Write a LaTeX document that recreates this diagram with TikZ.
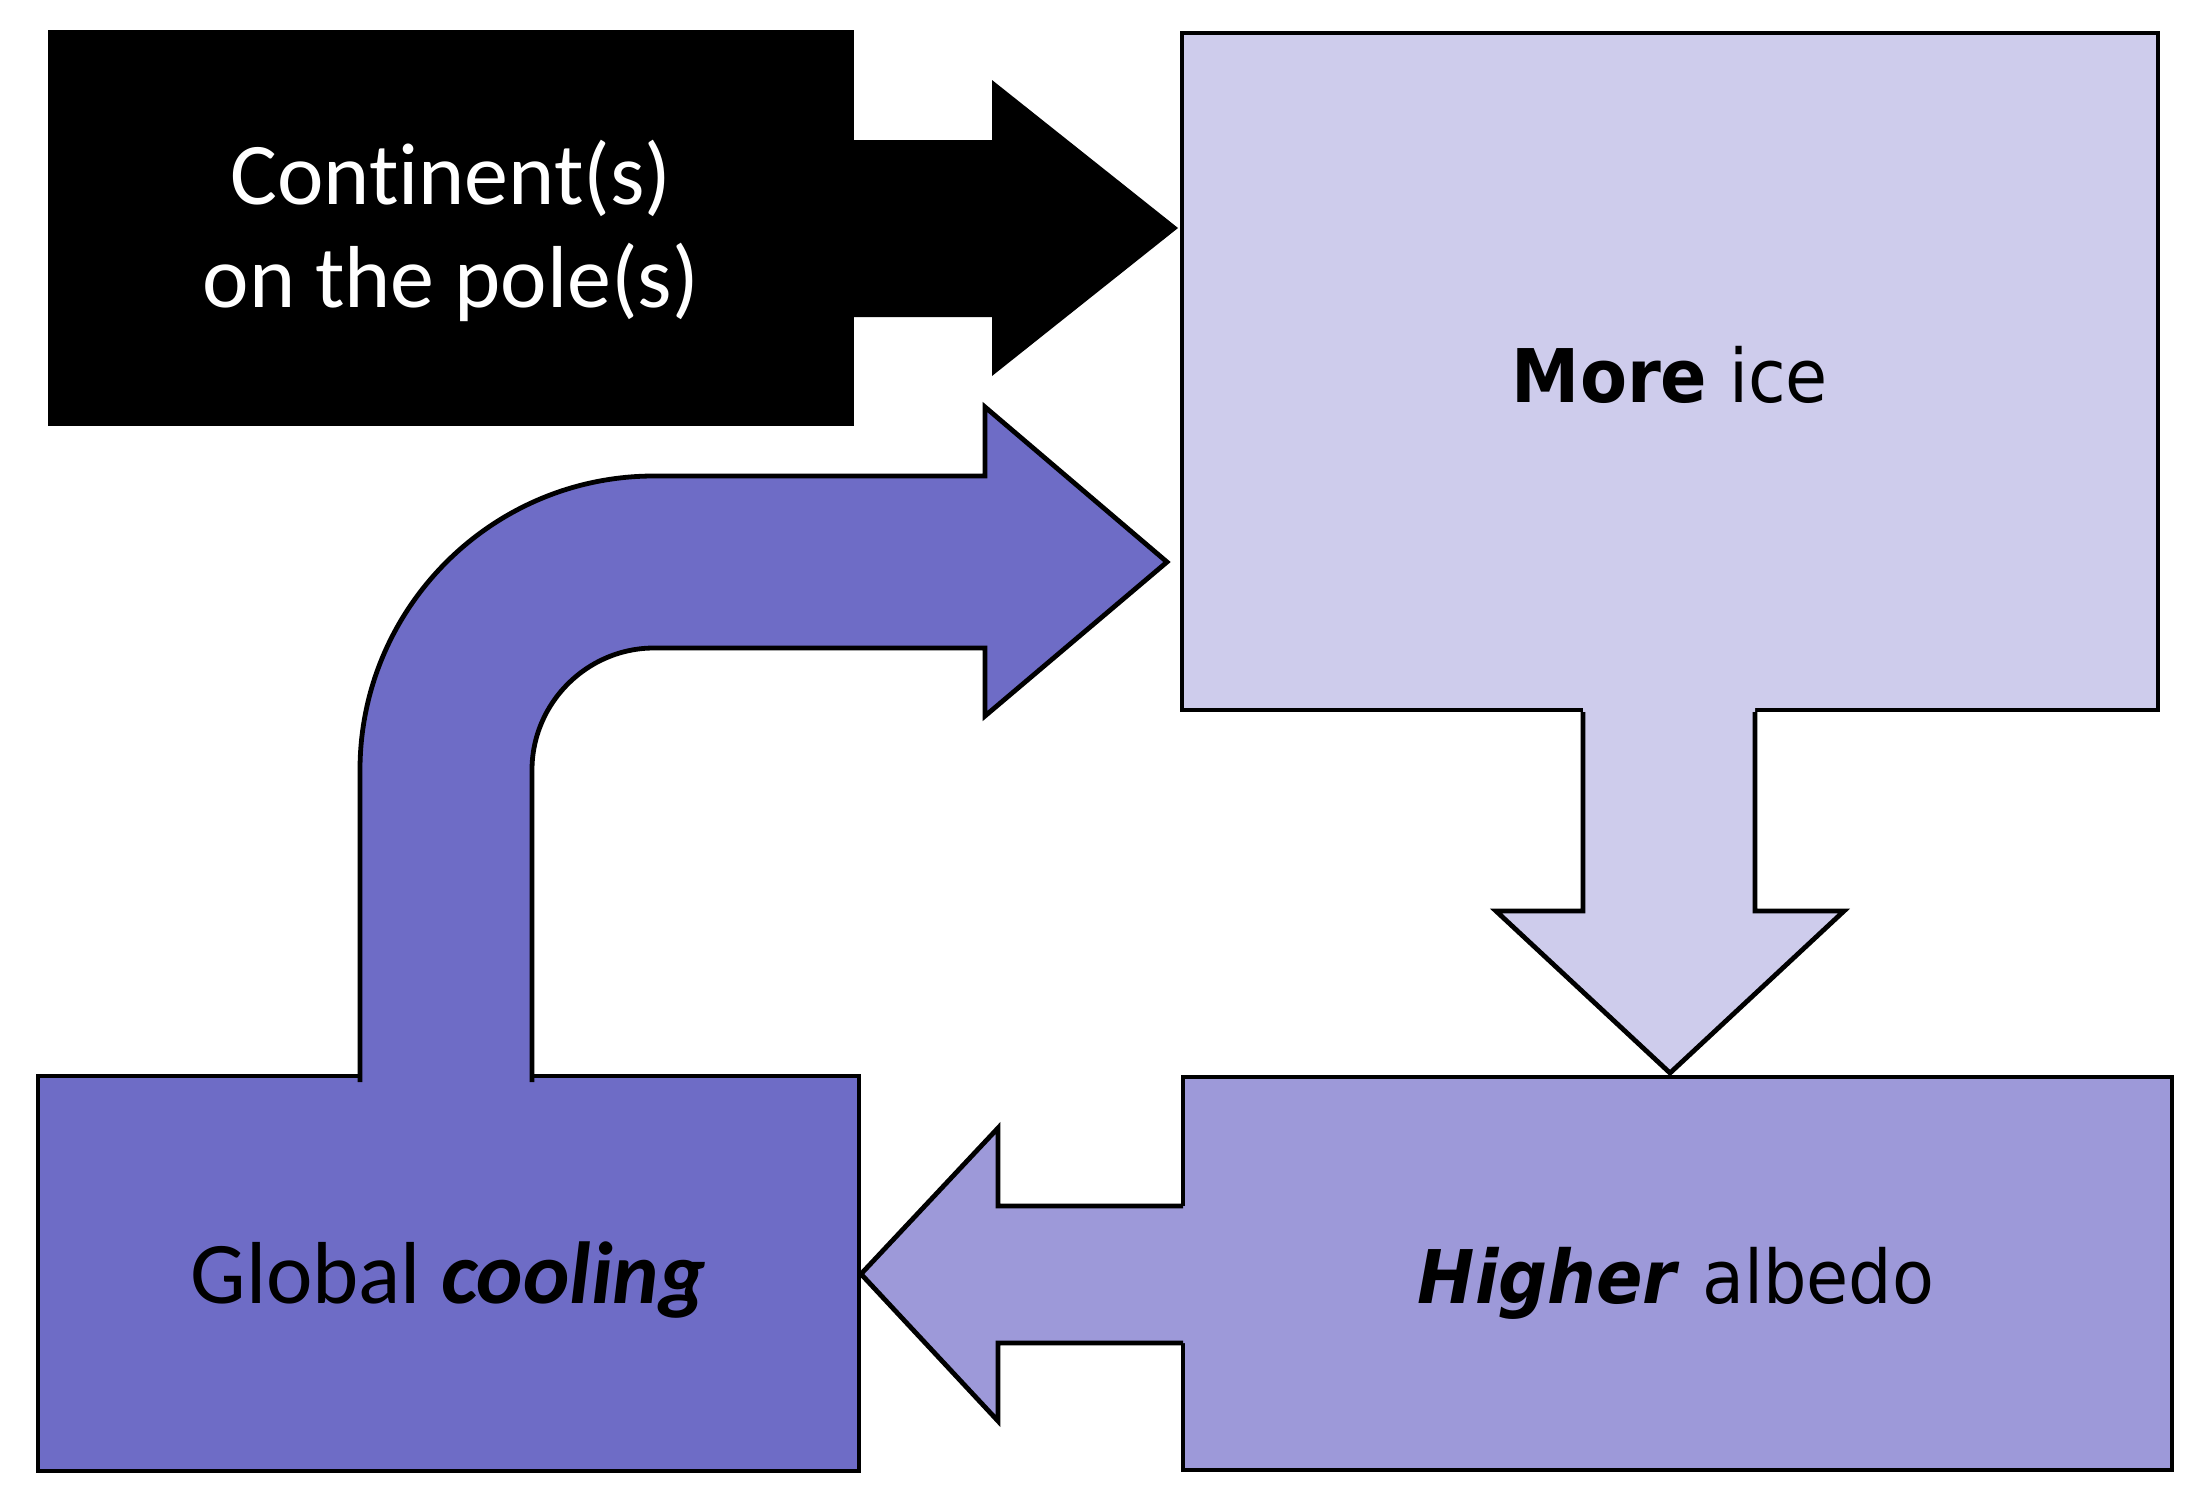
\documentclass[tikz,border=0pt]{standalone}
\usepackage{fontspec}
\newfontfamily\carl[RawFeature=-liga]{Carlito}
\newfontfamily\verd[FakeStretch=0.926]{DejaVu Sans}
\definecolor{iceC}{HTML}{CECCEC}
\definecolor{albC}{HTML}{9D99D9}
\definecolor{coolC}{HTML}{6E6CC6}
\tikzset{
  boxshape/.style={draw=black, line width=2.4pt, inner sep=0pt, outer sep=0pt},
  arrline/.style={draw=black, line width=2.4pt, line join=miter},
  calfont/.style={font=\carl\fontsize{44}{52}\selectfont},
  verfont/.style={font=\verd\fontsize{37}{44}\selectfont},
}
\begin{document}
\begin{tikzpicture}[x=0.5pt,y=-0.5pt]
\useasboundingbox (0,0) rectangle (2190,1488);
\fill[white] (0,0) rectangle (2190,1488);

% boxes
\node[boxshape, fill=black, minimum width=401pt, minimum height=196pt] (cont) at (451,228) {};
\node[boxshape, fill=iceC, minimum width=488pt, minimum height=338.5pt] (ice) at (1670,371.5) {};
\node[boxshape, fill=albC, minimum width=494.5pt, minimum height=196.5pt] (alb) at (1677.5,1273.5) {};
\node[boxshape, fill=coolC, minimum width=410.5pt, minimum height=197.5pt] (cool) at (448.5,1273.5) {};

% black arrow: continents -> more ice
\coordinate (tipA) at (1178,228);
\fill[black] (cont.east |- 0,140) -- (992,140) -- (992,80) -- (tipA) -- (992,376) -- (992,317) -- (cont.east |- 0,317) -- cycle;

% down arrow: more ice -> higher albedo
\coordinate (tipB) at (1670,1073);
\fill[iceC] (1583,704) -- (1583,911) -- (1496,911) -- (tipB) -- (1844,911) -- (1755,911) -- (1755,704) -- cycle;
\draw[arrline] (1583,712) -- (1583,911) -- (1496,911) -- (tipB) -- (1844,911) -- (1755,911) -- (1755,712);

% left arrow: higher albedo -> global cooling
\coordinate (tipC) at (861,1274);
\fill[albC] (1190,1206) -- (998,1206) -- (998,1128) -- (tipC) -- (998,1421) -- (998,1343) -- (1190,1343) -- cycle;
\draw[arrline] (1183,1206) -- (998,1206) -- (998,1128) -- (tipC) -- (998,1421) -- (998,1343) -- (1183,1343);

% curved arrow: global cooling -> more ice
\coordinate (tipD) at (1167,562);
\fill[coolC] (360,1084) -- (360,770) .. controls (360,608) and (492,476) .. (654,476) -- (985,476) -- (985,407) -- (tipD) -- (985,716) -- (985,648) -- (654,648) .. controls (587,648) and (532,703) .. (532,770) -- (532,1084) -- cycle;
\draw[arrline] (360,1082) -- (360,770) .. controls (360,608) and (492,476) .. (654,476) -- (985,476) -- (985,407) -- (tipD) -- (985,716) -- (985,648) -- (654,648) .. controls (587,648) and (532,703) .. (532,770) -- (532,1082);

% texts
\node[calfont, text=white, anchor=base, inner sep=0pt] (cont1) at (451,204) {Continent(s)};
\node[calfont, text=white, anchor=base, inner sep=0pt] (cont2) at (451,307) {on the pole(s)};
\node[verfont, text=black, anchor=base, inner sep=0pt] (icetxt) at (1670,402) {\textbf{More} ice};
\node[verfont, text=black, anchor=base, inner sep=0pt] (albtxt) at (1676,1303) {\textbf{\textit{Higher}} albedo};
\node[calfont, text=black, anchor=base, inner sep=0pt] (cooltxt) at (448,1303) {Global \textbf{\textit{cooling}}};
\end{tikzpicture}
\end{document}
